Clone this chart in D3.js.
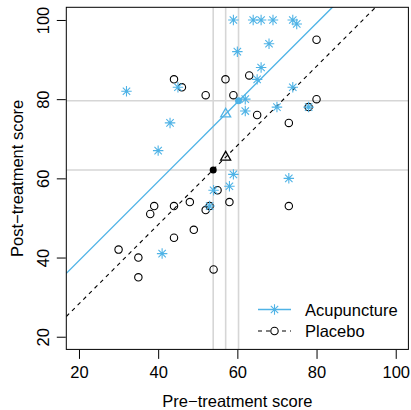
<!DOCTYPE html>
<html>
<head>
<meta charset="utf-8">
<script src="https://cdn.jsdelivr.net/npm/d3@7"></script>
<style>
  body { margin: 0; background: #fff; }
  text { font-family: "Liberation Sans", Arial, sans-serif; fill: #000; }
</style>
</head>
<body>
<div id="root"></div>
<script>
// pre / post scores
const acuPre  = [59, 64, 66, 69, 74, 75, 68, 60, 66, 65, 45, 32, 74, 62, 62, 70, 78, 43, 40, 59, 73, 58, 54, 53, 41];
const acuPost = [100, 100, 100, 100, 100, 99, 94, 92, 88, 85, 83, 82, 83, 80, 77, 78, 78, 74, 67, 61, 60, 58, 57, 53, 41];
const plaPre  = [44, 46, 57, 52, 59, 80, 63, 65, 80, 78, 73, 55, 39, 38, 44, 48, 52, 53, 58, 49, 44, 30, 35, 35, 54, 73];
const plaPost = [85, 83, 85, 81, 81, 95, 86, 76, 80, 78, 74, 57, 53, 51, 53, 54, 52, 53, 54, 47, 45, 42, 40, 35, 37, 53];

// group means (pre, post), overall pre mean, fitted parallel lines
const groups = ["Acupuncture", "Placebo"];
const meanPre = [60.3, 53.9];
const meanPost = [79.6, 62.1];
const overallPre = 57.05;
const fitSlope = 1.0;
const fitIntercept = [19.2, 8.3];

const ticks = [20, 40, 60, 80, 100];

const width = 411;
const height = 410;
const blue = "#4FB3E6";
const fs = 16.5;

const x = d3.scaleLinear([16.8, 103.2], [66.3, 408.4]);
const y = d3.scaleLinear([16.8, 103.2], [349.4, 7.3]);

const svg = d3.select("#root").append("svg")
  .attr("width", width)
  .attr("height", height);

svg.append("clipPath").attr("id", "plot")
  .append("rect")
  .attr("x", x.range()[0]).attr("y", y.range()[1])
  .attr("width", x.range()[1] - x.range()[0])
  .attr("height", y.range()[0] - y.range()[1]);

const r = 3.7;
const starPath = (cx, cy) => {
  const a = Math.SQRT2 * r, b = r;
  return `M${cx - a},${cy}H${cx + a}M${cx},${cy - a}V${cy + a}` +
    `M${cx - b},${cy - b}L${cx + b},${cy + b}M${cx - b},${cy + b}L${cx + b},${cy - b}`;
};
const triPath = (cx, cy) => {
  const t0 = Math.sqrt(4 * Math.PI / (3 * Math.sqrt(3)));
  const top = t0 * r, half = t0 * Math.sqrt(3) / 2 * r, base = t0 / 2 * r;
  return `M${cx},${cy - top}L${cx + half},${cy + base}L${cx - half},${cy + base}Z`;
};

// reference lines at the means
const grid = svg.append("g").attr("clip-path", "url(#plot)")
  .attr("stroke", "#d6d6d6").attr("stroke-width", 1.6);
grid.selectAll("line.v")
  .data([...meanPre, overallPre])
  .join("line")
  .attr("class", "v")
  .attr("x1", d => x(d)).attr("x2", d => x(d))
  .attr("y1", y.range()[0]).attr("y2", y.range()[1]);
grid.selectAll("line.h")
  .data(meanPost)
  .join("line")
  .attr("class", "h")
  .attr("x1", x.range()[0]).attr("x2", x.range()[1])
  .attr("y1", d => y(d)).attr("y2", d => y(d));

// fitted lines
const lines = svg.append("g").attr("clip-path", "url(#plot)").attr("fill", "none");
groups.forEach((g, i) => {
  const [x0, x1] = x.domain();
  lines.append("line")
    .attr("x1", x(x0)).attr("y1", y(fitIntercept[i] + fitSlope * x0))
    .attr("x2", x(x1)).attr("y2", y(fitIntercept[i] + fitSlope * x1))
    .attr("stroke", i === 0 ? blue : "#000")
    .attr("stroke-width", i === 0 ? 1.4 : 1.1)
    .attr("stroke-dasharray", i === 0 ? null : "4,4");
});

// points
svg.append("g")
  .selectAll("circle")
  .data(d3.zip(plaPre, plaPost))
  .join("circle")
  .attr("cx", d => x(d[0]))
  .attr("cy", d => y(d[1]))
  .attr("r", r)
  .attr("fill", "none")
  .attr("stroke", "#000")
  .attr("stroke-width", 1.1);

svg.append("g")
  .selectAll("path")
  .data(d3.zip(acuPre, acuPost))
  .join("path")
  .attr("d", d => starPath(x(d[0]), y(d[1])))
  .attr("stroke", blue)
  .attr("stroke-width", 1.1);

// group means and adjusted means
svg.append("g")
  .selectAll("circle")
  .data(groups)
  .join("circle")
  .attr("cx", (d, i) => x(meanPre[i]))
  .attr("cy", (d, i) => y(meanPost[i]))
  .attr("r", 3.5)
  .attr("fill", (d, i) => i === 0 ? blue : "#000");

svg.append("g")
  .selectAll("path")
  .data(groups)
  .join("path")
  .attr("d", (d, i) => triPath(x(overallPre), y(fitIntercept[i] + fitSlope * overallPre)))
  .attr("fill", "none")
  .attr("stroke", (d, i) => i === 0 ? blue : "#000")
  .attr("stroke-width", 1.3);

// box
svg.append("rect")
  .attr("x", x.range()[0]).attr("y", y.range()[1])
  .attr("width", x.range()[1] - x.range()[0])
  .attr("height", y.range()[0] - y.range()[1])
  .attr("fill", "none")
  .attr("stroke", "#000");

// axes
const xAxis = svg.append("g")
  .attr("transform", `translate(0,${y.range()[0] + 0.5})`)
  .call(d3.axisBottom(x).tickValues(ticks).tickSize(9).tickPadding(7));
const yAxis = svg.append("g")
  .attr("transform", `translate(${x.range()[0] - 0.5},0)`)
  .call(d3.axisLeft(y).tickValues(ticks).tickSize(9).tickPadding(5));

[xAxis, yAxis].forEach(ax => {
  ax.select(".domain").remove();
  ax.selectAll("line").attr("stroke", "#000");
  ax.selectAll("text").attr("font-size", fs).attr("fill", "#000")
    .style("font-family", "'Liberation Sans', Arial, sans-serif");
});
yAxis.selectAll(".tick text")
  .attr("x", null).attr("dy", null)
  .attr("text-anchor", "middle")
  .attr("transform", "translate(-17,0) rotate(-90)");

svg.append("text")
  .attr("x", (x.range()[0] + x.range()[1]) / 2)
  .attr("y", 407)
  .attr("text-anchor", "middle")
  .attr("font-size", fs)
  .text("Pre\u2212treatment score");

svg.append("text")
  .attr("transform", `translate(22.5,${(y.range()[0] + y.range()[1]) / 2}) rotate(-90)`)
  .attr("text-anchor", "middle")
  .attr("font-size", fs)
  .text("Post\u2212treatment score");

// legend
const legend = svg.append("g");
groups.forEach((g, i) => {
  const ly = 309.5 + i * 21.5;
  legend.append("line")
    .attr("x1", 258).attr("x2", 291)
    .attr("y1", ly).attr("y2", ly)
    .attr("stroke", i === 0 ? blue : "#000")
    .attr("stroke-width", i === 0 ? 1.4 : 1.1)
    .attr("stroke-dasharray", i === 0 ? null : "4,4");
  if (i === 0) {
    legend.append("path").attr("d", starPath(274.5, ly))
      .attr("stroke", blue).attr("stroke-width", 1.1);
  } else {
    legend.append("circle").attr("cx", 274.5).attr("cy", ly).attr("r", r)
      .attr("fill", "#fff").attr("stroke", "#000").attr("stroke-width", 1.1);
  }
  legend.append("text")
    .attr("x", 305).attr("y", ly + 6)
    .attr("font-size", fs)
    .text(g);
});
</script>
</body>
</html>
